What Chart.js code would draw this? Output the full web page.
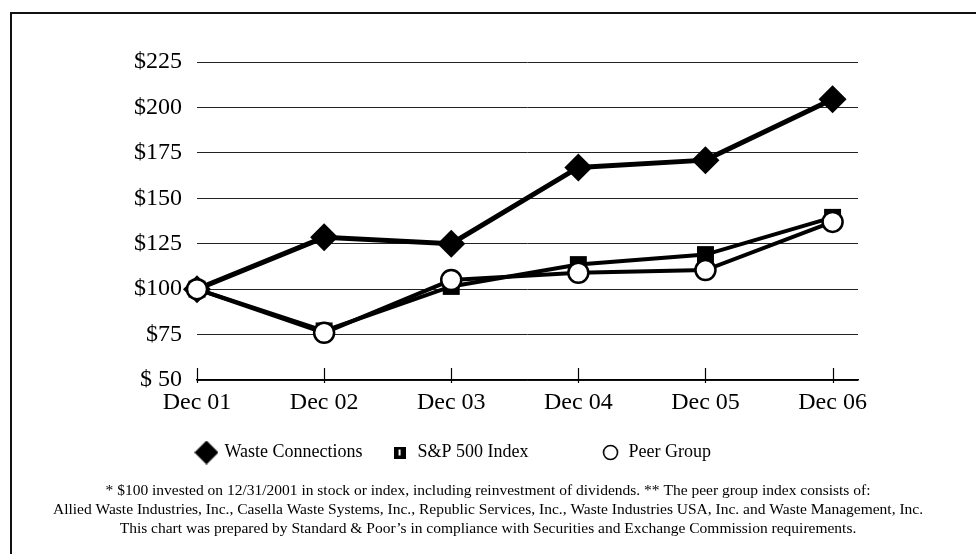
<!DOCTYPE html>
<html>
<head>
<meta charset="utf-8">
<script src="https://cdn.jsdelivr.net/npm/chart.js@4.4.0/dist/chart.umd.min.js"></script>
<style>
  html, body { margin: 0; padding: 0; background: #fff; }
  #frame { position: absolute; left: 10px; top: 12px; width: 980px; height: 560px;
           border-left: 2px solid #111; border-top: 2px solid #111; }
  #chart { position: absolute; left: 0; top: 0; }
</style>
</head>
<body>
<div id="frame"></div>
<canvas id="chart" width="976" height="554"></canvas>
<script>
  const categories = ['Dec 01', 'Dec 02', 'Dec 03', 'Dec 04', 'Dec 05', 'Dec 06'];
  const wasteConnections = [100, 128.5, 125, 167, 171, 204.5];
  const sp500 = [100, 77, 101.5, 113.5, 119, 139.5];
  const peerGroup = [100, 76, 105, 109, 110.5, 137];
  const yTicks = [50, 75, 100, 125, 150, 175, 200, 225];
  const yTickLabels = ['$ 50', '$75', '$100', '$125', '$150', '$175', '$200', '$225'];
  const seriesNames = ['Waste Connections', 'S&P 500 Index', 'Peer Group'];
  const footnote = [
    '* $100 invested on 12/31/2001 in stock or index, including reinvestment of dividends. ** The peer group index consists of:',
    'Allied Waste Industries, Inc., Casella Waste Systems, Inc., Republic Services, Inc., Waste Industries USA, Inc. and Waste Management, Inc.',
    'This chart was prepared by Standard & Poor\u2019s in compliance with Securities and Exchange Commission requirements.'
  ];

  const serif = "'Liberation Serif', 'Times New Roman', serif";
  const padLeft = 10, padRight = 10;

  // little canvases for the legend markers, each a different size like the original
  function marker(w, h, draw) {
    const c = document.createElement('canvas');
    c.width = w; c.height = h;
    draw(c.getContext('2d'));
    return c;
  }
  const diamondIcon = marker(24, 24, g => {
    g.fillStyle = '#000';
    g.beginPath(); g.moveTo(12, 0); g.lineTo(24, 12); g.lineTo(12, 24); g.lineTo(0, 12); g.closePath(); g.fill();
  });
  const squareIcon = marker(12, 12, g => {
    g.fillStyle = '#000'; g.fillRect(0, 0, 12, 12);
    g.fillStyle = '#fff'; g.fillRect(5, 3, 2, 6);
  });
  const circleIcon = marker(17, 17, g => {
    g.fillStyle = '#fff'; g.strokeStyle = '#000'; g.lineWidth = 1.6;
    g.beginPath(); g.arc(8.5, 8.5, 7, 0, Math.PI * 2); g.fill(); g.stroke();
  });

  const toPoints = arr => arr.map((v, i) => ({ x: i, y: v }));

  // small upward tick marks on the x axis
  const axisTicks = {
    id: 'axisTicks',
    afterDraw(chart) {
      const x = chart.scales.x, y = chart.scales.y, ctx = chart.ctx;
      const base = y.getPixelForValue(50);
      ctx.save();
      ctx.strokeStyle = '#000';
      ctx.lineWidth = 1.2;
      categories.forEach((c, i) => {
        const px = Math.round(x.getPixelForValue(i)) + 0.5;
        ctx.beginPath(); ctx.moveTo(px, base - 12); ctx.lineTo(px, base + 3); ctx.stroke();
      });
      ctx.restore();
    }
  };

  new Chart(document.getElementById('chart'), {
    type: 'line',
    data: {
      datasets: [{
        label: seriesNames[0],
        data: toPoints(wasteConnections),
        borderColor: '#000',
        backgroundColor: '#000',
        borderWidth: 5,
        pointStyle: 'rectRot',
        pointRadius: 14,
        pointBackgroundColor: '#000',
        pointBorderWidth: 0,
        clip: false,
        order: 3
      }, {
        label: seriesNames[1],
        data: toPoints(sp500),
        borderColor: '#000',
        backgroundColor: '#000',
        borderWidth: 4,
        pointStyle: 'rect',
        pointRadius: 12,
        pointBackgroundColor: '#000',
        pointBorderWidth: 0,
        clip: false,
        order: 2
      }, {
        label: seriesNames[2],
        data: toPoints(peerGroup),
        borderColor: '#000',
        backgroundColor: '#fff',
        borderWidth: 4,
        pointStyle: 'circle',
        pointRadius: 10,
        pointBackgroundColor: '#fff',
        pointBorderColor: '#000',
        pointBorderWidth: 2.5,
        clip: false,
        order: 1
      }]
    },
    options: {
      responsive: false,
      animation: false,
      devicePixelRatio: 1,
      layout: { padding: { left: padLeft, right: padRight, top: 62, bottom: 15.5 } },
      elements: { line: { tension: 0 } },
      scales: {
        x: {
          type: 'linear',
          min: 0,
          max: 5.2,
          afterBuildTicks: s => { s.ticks = categories.map((c, i) => ({ value: i })); },
          afterFit: s => { s.height = 35.5; },
          grid: { display: false },
          border: { display: true, color: '#000', width: 1.5 },
          ticks: {
            padding: 0,
            color: '#000',
            font: { family: serif, size: 24 },
            maxRotation: 0,
            callback: v => categories[v]
          }
        },
        y: {
          min: 50,
          max: 225,
          afterBuildTicks: s => { s.ticks = yTicks.map(v => ({ value: v })); },
          afterFit: s => { s.width = 197 - padLeft; },
          grid: { color: '#222', lineWidth: 1, drawTicks: false },
          border: { display: false },
          ticks: {
            padding: 15,
            color: '#000',
            font: { family: serif, size: 24 },
            callback: v => yTickLabels[yTicks.indexOf(v)]
          }
        },
        // empty right-hand axis that only keeps the plot's right margin
        spacer: {
          type: 'linear',
          position: 'right',
          afterFit: s => { s.width = 976 - padRight - 858; },
          grid: { display: false },
          border: { display: false },
          ticks: { display: false }
        }
      },
      plugins: {
        tooltip: { enabled: false },
        legend: {
          position: 'bottom',
          labels: {
            usePointStyle: true,
            padding: 28,
            color: '#000',
            font: { family: serif, size: 18 },
            generateLabels: () => [
              { text: seriesNames[0], pointStyle: diamondIcon, datasetIndex: 0 },
              { text: seriesNames[1] + '          ', pointStyle: squareIcon, datasetIndex: 1 },
              { text: seriesNames[2] + '               ', pointStyle: circleIcon, datasetIndex: 2 }
            ]
          }
        },
        subtitle: {
          display: true,
          position: 'bottom',
          text: footnote,
          color: '#000',
          font: { family: serif, size: 15.5, lineHeight: 19 / 15.5 },
          padding: { top: 10, bottom: 0 }
        }
      }
    },
    plugins: [axisTicks]
  });
</script>
</body>
</html>
